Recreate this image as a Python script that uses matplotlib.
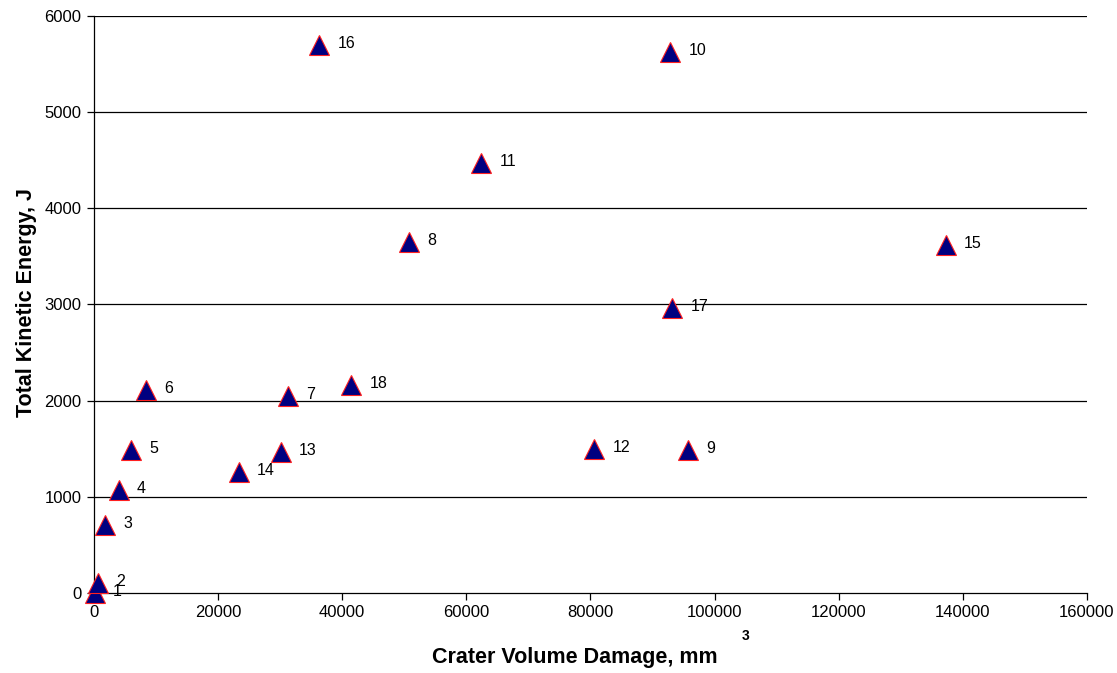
import matplotlib
matplotlib.use("Agg")
import matplotlib.pyplot as plt

labels = ["1", "2", "3", "4", "5", "6", "7", "8", "9", "10", "11", "12", "13", "14", "15", "16", "17", "18"]
crater_volume = [160, 650, 1770, 4030, 5970, 8390, 31290, 50800, 95800, 92900, 62400, 80650, 30160, 23390, 137260, 36290, 93200, 41450]
kinetic_energy = [0, 100, 707, 1071, 1487, 2111, 2048, 3650, 1487, 5625, 4471, 1497, 1466, 1258, 3619, 5698, 2963, 2163]

x_ticks = [0, 20000, 40000, 60000, 80000, 100000, 120000, 140000, 160000]
y_ticks = [0, 1000, 2000, 3000, 4000, 5000, 6000]

plt.rcParams['font.family'] = ['Liberation Sans', 'DejaVu Sans']

fig = plt.figure(figsize=(11.17, 6.73), dpi=100)
ax = fig.add_axes([0.0842, 0.1189, 0.973 - 0.0842, 0.9762 - 0.1189])

for yv in y_ticks[1:]:
    ax.axhline(yv, color='black', linewidth=0.9, zorder=1)

ax.plot(crater_volume, kinetic_energy, linestyle='none', marker='^', markersize=14,
        markerfacecolor='#000080', markeredgecolor='#ff2020', markeredgewidth=0.8,
        clip_on=False, zorder=3)

for lab, xv, yv in zip(labels, crater_volume, kinetic_energy):
    ax.annotate(lab, (xv, yv), xytext=(13, 1), textcoords='offset points',
                ha='left', va='center', fontsize=11.5, color='black',
                annotation_clip=False, zorder=4)

ax.set_xlim(0, 160000)
ax.set_ylim(0, 6000)
ax.set_xticks(x_ticks)
ax.set_yticks(y_ticks)
ax.set_xticklabels([str(v) for v in x_ticks], fontsize=12)
ax.set_yticklabels([str(v) for v in y_ticks], fontsize=12)
ax.tick_params(axis='both', direction='out', length=5, width=0.9, color='black', pad=4)

for side in ['top', 'right']:
    ax.spines[side].set_visible(False)
for side in ['left', 'bottom']:
    ax.spines[side].set_linewidth(0.9)
    ax.spines[side].set_color('black')
    ax.spines[side].set_zorder(2)

fig.text(575 / 1117, 1 - 657 / 673, "Crater Volume Damage, mm", ha='center', va='center',
         fontsize=15.5, fontweight='bold')
fig.text(746 / 1117, 1 - 636 / 673, "3", ha='center', va='center',
         fontsize=10, fontweight='bold')
fig.text(27 / 1117, 1 - 303 / 673, "Total Kinetic Energy, J", ha='center', va='center',
         rotation=90, fontsize=15.5, fontweight='bold')

fig.savefig("out.png", dpi=100, facecolor='white')
